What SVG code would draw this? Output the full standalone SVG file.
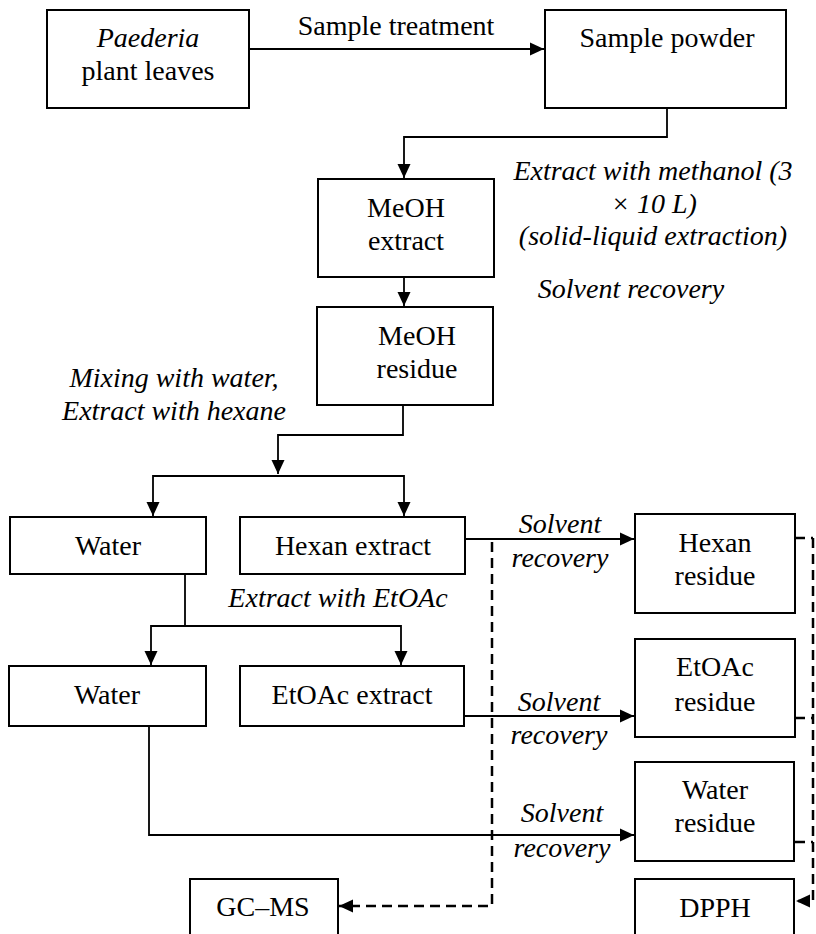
<svg xmlns="http://www.w3.org/2000/svg" width="816" height="934" viewBox="0 0 816 934">
<defs>
<marker id="ah" markerWidth="15" markerHeight="14" refX="14" refY="7" orient="auto" markerUnits="userSpaceOnUse">
<path d="M0,0.5 L14,7 L0,13.5 Z" fill="#000"/>
</marker>
</defs>
<rect width="816" height="934" fill="#fff"/>
<g id="connectors" fill="none" stroke="#000" stroke-width="1.8">
<path marker-end="url(#ah)" d="M249,49 H544"/>
<path marker-end="url(#ah)" d="M667,108 V137 H404 V178"/>
<path marker-end="url(#ah)" d="M404,277 V306"/>
<path marker-end="url(#ah)" d="M403,405 V435 H278 V474"/>
<path marker-end="url(#ah)" d="M278,476 H153 V516"/>
<path marker-end="url(#ah)" d="M278,476 H404 V516"/>
<path marker-end="url(#ah)" d="M465,539 H634"/>
<path d="M185,574 V626"/>
<path marker-end="url(#ah)" d="M185,626 H151 V665"/>
<path marker-end="url(#ah)" d="M185,626 H401 V665"/>
<path marker-end="url(#ah)" d="M464,716 H634"/>
<path marker-end="url(#ah)" d="M149,726 V835 H634"/>
<g stroke-width="2.5" stroke-dasharray="10,6">
<path marker-end="url(#ah)" d="M492,542 V906 H339"/>
<path d="M795,538 H813"/>
<path d="M795,718 H813"/>
<path d="M795,842 H813"/>
<path marker-end="url(#ah)" d="M813,538 V901 H796"/>
</g>
</g>
<g id="labels">
<text x="396" y="35" font-size="28" font-family="Liberation Serif" text-anchor="middle" style="font-family:'Liberation Serif',serif">Sample treatment</text>
<text x="653" y="180" font-size="28" font-family="Liberation Serif" font-style="italic" text-anchor="middle" style="font-family:'Liberation Serif',serif">Extract with methanol (3</text>
<text x="654" y="213" font-size="28" font-family="Liberation Serif" font-style="italic" text-anchor="middle" style="font-family:'Liberation Serif',serif">&#215; 10 L)</text>
<text x="653" y="245" font-size="28" font-family="Liberation Serif" font-style="italic" text-anchor="middle" style="font-family:'Liberation Serif',serif">(solid-liquid extraction)</text>
<text x="631" y="298" font-size="28" font-family="Liberation Serif" font-style="italic" text-anchor="middle" style="font-family:'Liberation Serif',serif">Solvent recovery</text>
<text x="174" y="387" font-size="28" font-family="Liberation Serif" font-style="italic" text-anchor="middle" style="font-family:'Liberation Serif',serif">Mixing with water,</text>
<text x="174" y="420" font-size="28" font-family="Liberation Serif" font-style="italic" text-anchor="middle" style="font-family:'Liberation Serif',serif">Extract with hexane</text>
<text x="560" y="533" font-size="28" font-family="Liberation Serif" font-style="italic" text-anchor="middle" style="font-family:'Liberation Serif',serif">Solvent</text>
<text x="560" y="567" font-size="28" font-family="Liberation Serif" font-style="italic" text-anchor="middle" style="font-family:'Liberation Serif',serif">recovery</text>
<text x="338" y="607" font-size="28" font-family="Liberation Serif" font-style="italic" text-anchor="middle" style="font-family:'Liberation Serif',serif">Extract with EtOAc</text>
<text x="559" y="711" font-size="28" font-family="Liberation Serif" font-style="italic" text-anchor="middle" style="font-family:'Liberation Serif',serif">Solvent</text>
<text x="559" y="744" font-size="28" font-family="Liberation Serif" font-style="italic" text-anchor="middle" style="font-family:'Liberation Serif',serif">recovery</text>
<text x="562" y="822" font-size="28" font-family="Liberation Serif" font-style="italic" text-anchor="middle" style="font-family:'Liberation Serif',serif">Solvent</text>
<text x="562" y="857" font-size="28" font-family="Liberation Serif" font-style="italic" text-anchor="middle" style="font-family:'Liberation Serif',serif">recovery</text>
</g>
<g id="paederia">
<rect x="47" y="10" width="202" height="98" fill="#fff" stroke="#000" stroke-width="2"/>
<text x="148" y="47" font-size="28" font-family="Liberation Serif" font-style="italic" text-anchor="middle" style="font-family:'Liberation Serif',serif">Paederia</text>
<text x="148" y="80" font-size="28" font-family="Liberation Serif" text-anchor="middle" style="font-family:'Liberation Serif',serif">plant leaves</text>
</g>
<g id="sample-powder">
<rect x="545" y="10" width="241" height="98" fill="#fff" stroke="#000" stroke-width="2"/>
<text x="667" y="47" font-size="28" font-family="Liberation Serif" text-anchor="middle" style="font-family:'Liberation Serif',serif">Sample powder</text>
</g>
<g id="meoh-extract">
<rect x="318" y="179" width="176" height="98" fill="#fff" stroke="#000" stroke-width="2"/>
<text x="406" y="217" font-size="28" font-family="Liberation Serif" text-anchor="middle" style="font-family:'Liberation Serif',serif">MeOH</text>
<text x="406" y="250" font-size="28" font-family="Liberation Serif" text-anchor="middle" style="font-family:'Liberation Serif',serif">extract</text>
</g>
<g id="meoh-residue">
<rect x="317" y="307" width="176" height="98" fill="#fff" stroke="#000" stroke-width="2"/>
<text x="417" y="345" font-size="28" font-family="Liberation Serif" text-anchor="middle" style="font-family:'Liberation Serif',serif">MeOH</text>
<text x="417" y="378" font-size="28" font-family="Liberation Serif" text-anchor="middle" style="font-family:'Liberation Serif',serif">residue</text>
</g>
<g id="water1">
<rect x="10" y="517" width="196" height="57" fill="#fff" stroke="#000" stroke-width="2"/>
<text x="108" y="555" font-size="28" font-family="Liberation Serif" text-anchor="middle" style="font-family:'Liberation Serif',serif">Water</text>
</g>
<g id="hexan-extract">
<rect x="240" y="517" width="225" height="57" fill="#fff" stroke="#000" stroke-width="2"/>
<text x="353" y="555" font-size="28" font-family="Liberation Serif" text-anchor="middle" style="font-family:'Liberation Serif',serif">Hexan extract</text>
</g>
<g id="hexan-residue">
<rect x="635" y="514" width="160" height="99" fill="#fff" stroke="#000" stroke-width="2"/>
<text x="715" y="552" font-size="28" font-family="Liberation Serif" text-anchor="middle" style="font-family:'Liberation Serif',serif">Hexan</text>
<text x="715" y="585" font-size="28" font-family="Liberation Serif" text-anchor="middle" style="font-family:'Liberation Serif',serif">residue</text>
</g>
<g id="water2">
<rect x="9" y="666" width="197" height="60" fill="#fff" stroke="#000" stroke-width="2"/>
<text x="107" y="704" font-size="28" font-family="Liberation Serif" text-anchor="middle" style="font-family:'Liberation Serif',serif">Water</text>
</g>
<g id="etoac-extract">
<rect x="240" y="666" width="224" height="60" fill="#fff" stroke="#000" stroke-width="2"/>
<text x="352" y="704" font-size="28" font-family="Liberation Serif" text-anchor="middle" style="font-family:'Liberation Serif',serif">EtOAc extract</text>
</g>
<g id="etoac-residue">
<rect x="635" y="639" width="160" height="98" fill="#fff" stroke="#000" stroke-width="2"/>
<text x="715" y="676" font-size="28" font-family="Liberation Serif" text-anchor="middle" style="font-family:'Liberation Serif',serif">EtOAc</text>
<text x="715" y="711" font-size="28" font-family="Liberation Serif" text-anchor="middle" style="font-family:'Liberation Serif',serif">residue</text>
</g>
<g id="water-residue">
<rect x="635" y="762" width="159" height="99" fill="#fff" stroke="#000" stroke-width="2"/>
<text x="715" y="799" font-size="28" font-family="Liberation Serif" text-anchor="middle" style="font-family:'Liberation Serif',serif">Water</text>
<text x="715" y="832" font-size="28" font-family="Liberation Serif" text-anchor="middle" style="font-family:'Liberation Serif',serif">residue</text>
</g>
<g id="gcms">
<rect x="190" y="879" width="148" height="70" fill="#fff" stroke="#000" stroke-width="2"/>
<text x="263" y="916" font-size="28" font-family="Liberation Serif" text-anchor="middle" style="font-family:'Liberation Serif',serif">GC&#8211;MS</text>
</g>
<g id="dpph">
<rect x="635" y="879" width="159" height="70" fill="#fff" stroke="#000" stroke-width="2"/>
<text x="715" y="917" font-size="28" font-family="Liberation Serif" text-anchor="middle" style="font-family:'Liberation Serif',serif">DPPH</text>
</g>
</svg>
